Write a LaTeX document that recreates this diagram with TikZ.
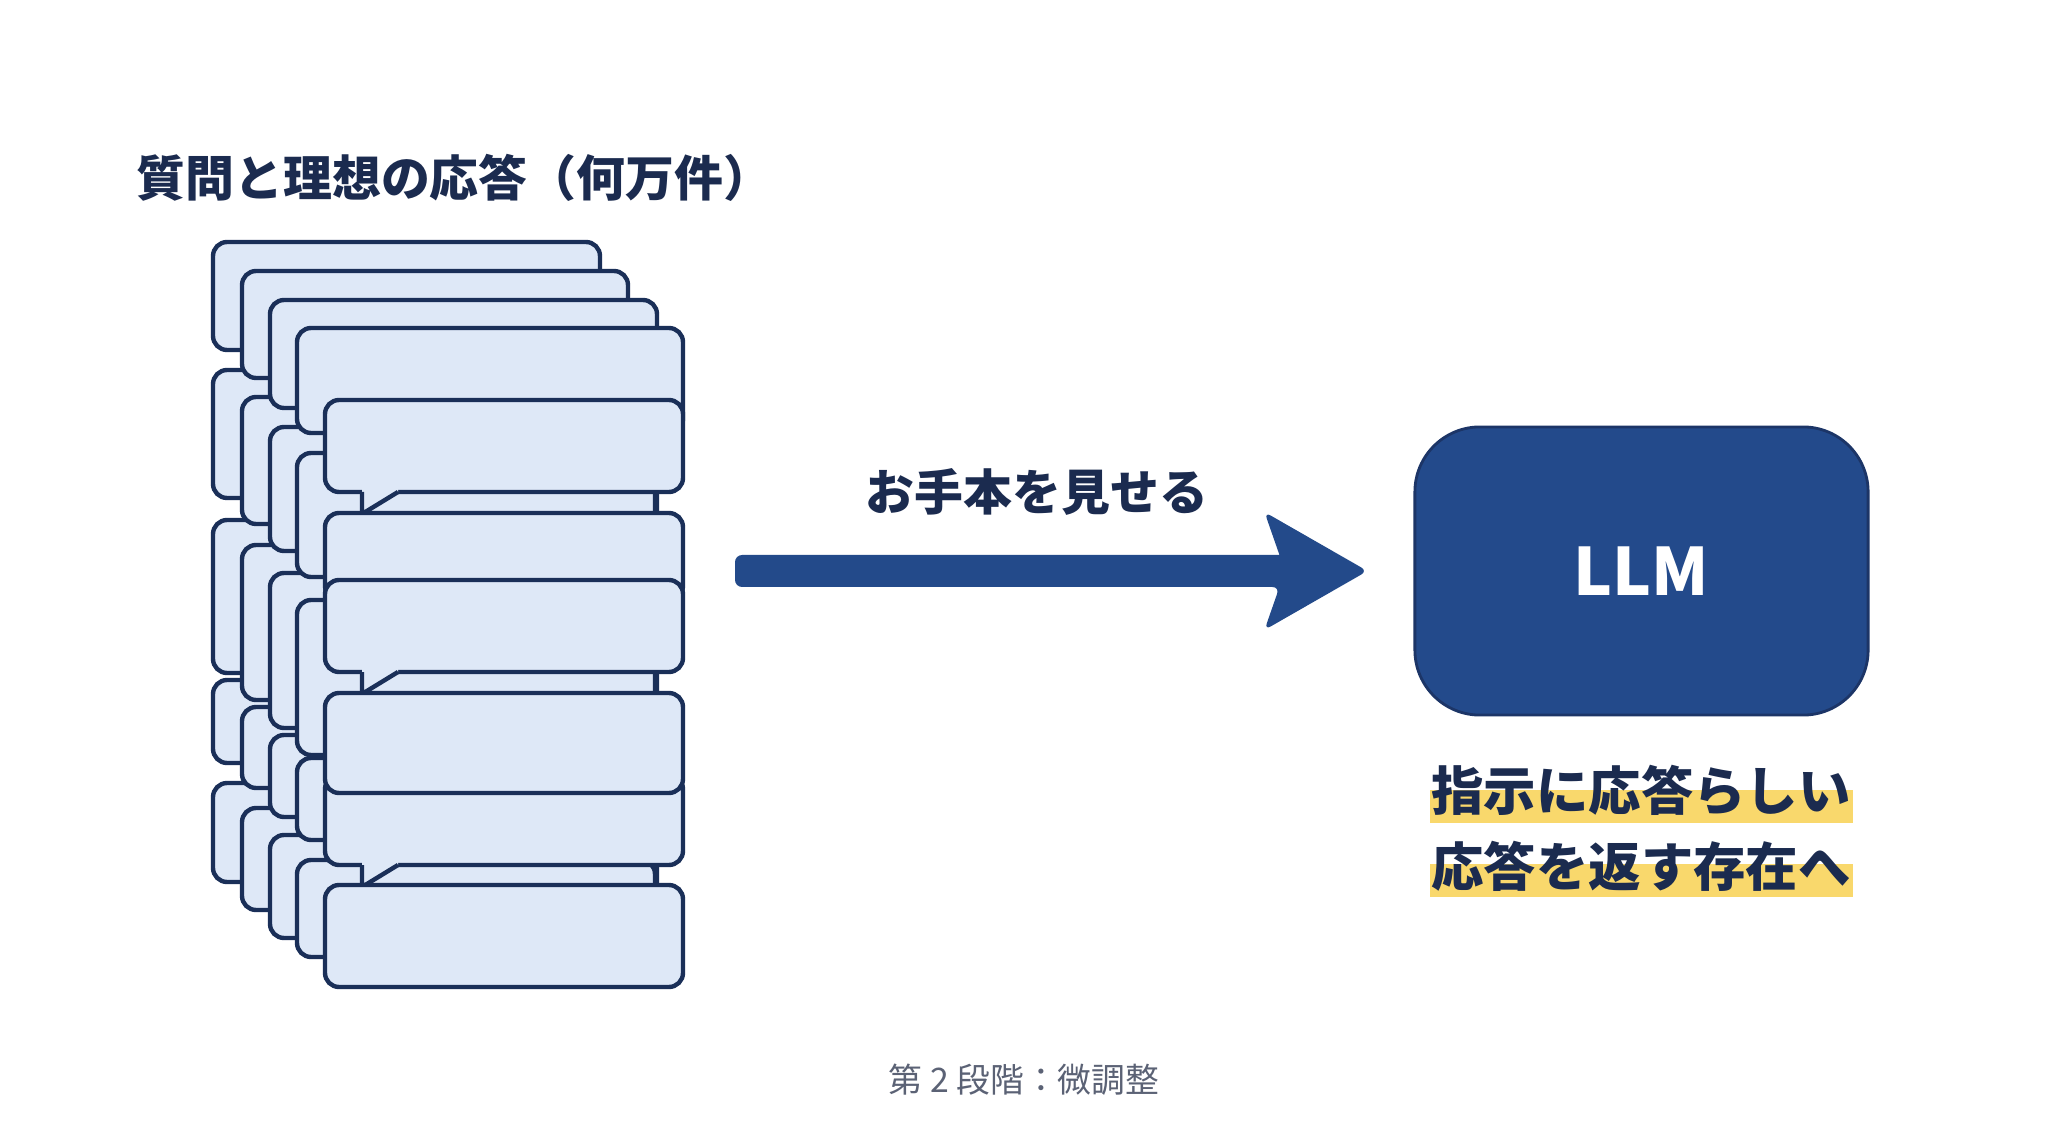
\documentclass[tikz,border=0pt]{standalone}
\usepackage{fontspec}
\setmainfont{Noto Sans CJK JP}
\usetikzlibrary{calc}
\definecolor{navy}{HTML}{1B2B4F}
\definecolor{bubline}{HTML}{1A2F58}
\definecolor{bubfill}{HTML}{DEE8F7}
\definecolor{arrowblue}{HTML}{234A8A}
\definecolor{llmfill}{HTML}{234A8B}
\definecolor{llmline}{HTML}{1C3567}
\definecolor{hl}{HTML}{F9D86C}
\definecolor{capgray}{HTML}{5B6275}
\newcommand\pbub[4]{\draw[bub] (#1,#2) rectangle (#3,#4);}
\newcommand\tbub[4]{%
  \draw[bub] (#1,#2) rectangle (#3,#4);
  \fill[bubfill] (#1+37,#4-3) -- (#1+37,#4+22) -- (#1+73,#4) -- (#1+73,#4-3) -- cycle;
  \draw[bubedge] (#1+37,#4) -- (#1+37,#4+22) -- (#1+73,#4);}
\begin{document}
\begin{tikzpicture}[x=0.01cm,y=-0.01cm,
  bub/.style={fill=bubfill,draw=bubline,line width=1.25pt,rounded corners=4pt},
  bubedge/.style={draw=bubline,line width=1.25pt,line join=miter},
  boldtext/.style={text=navy,inner sep=0pt},
  llmbox/.style={fill=llmfill,draw=llmline,line width=0.8pt,rounded corners=18.5pt,
     minimum width=4.53cm,minimum height=2.88cm,text=white,
     font=\bfseries\fontsize{18.6}{22}\selectfont},
  bigarrow/.style={fill=arrowblue,rounded corners=2pt}]
\fill[white] (0,0) rectangle (2048,1143);
\useasboundingbox (0,0) rectangle (2048,1143);

% title
\node[boldtext,anchor=west,font=\bfseries\fontsize{13.9}{16}\selectfont] (title) at (136,178) {質問と理想の応答（何万件）};

% stacked bubbles, back columns
\pbub{213}{242}{600}{350}
\pbub{213}{370}{600}{498}
\pbub{213}{520}{600}{673}
\pbub{213}{680}{600}{763}
\pbub{213}{783}{600}{882}

\pbub{242}{271}{628}{378}
\pbub{242}{397}{628}{524}
\pbub{242}{545}{628}{700}
\pbub{242}{707}{628}{788}
\pbub{242}{808}{628}{910}

\pbub{270}{300}{657}{408}
\pbub{270}{427}{657}{551}
\pbub{270}{573}{657}{728}
\pbub{270}{735}{657}{817}
\pbub{270}{835}{657}{938}

\pbub{297}{328}{683}{433}
\pbub{297}{453}{655}{577}
\pbub{297}{600}{655}{755}
\pbub{297}{758}{655}{840}
\pbub{297}{860}{655}{957}

% front column
\tbub{325}{400}{683}{492}
\pbub{325}{513}{683}{600}
\tbub{325}{580}{683}{672}
\tbub{325}{775}{683}{865}
\pbub{325}{693}{683}{793}
\pbub{325}{885}{683}{987}

\coordinate (stack) at (735,571.5);

% LLM box
\node[llmbox] (llm) at (1641.5,571) {LLM};

% arrow
\coordinate (arrE) at ($(llm.west)+(-46,0)$);
\coordinate (arrS) at (stack |- arrE);
\fill[bigarrow] ($(arrS)+(0,-16)$) [sharp corners] -- ($(arrE)+(-88,-16)$) [rounded corners=2pt] -- ($(arrE)+(-103,-59)$)
  -- (arrE) -- ($(arrE)+(-103,59)$) -- ($(arrE)+(-88,16)$) -- ($(arrS)+(0,16)$) -- cycle;
\node[boldtext,font=\bfseries\fontsize{13.9}{16}\selectfont] (lbl) at (1037,492) {お手本を見せる};

% highlighted description
\fill[hl] (1430,790) rectangle (1853,823);
\fill[hl] (1430,864) rectangle (1853,897);
\node[boldtext,font=\bfseries\fontsize{14.9}{17}\selectfont] (d1) at (1641,790) {指示に応答らしい};
\node[boldtext,font=\bfseries\fontsize{14.9}{17}\selectfont] (d2) at (1641,866) {応答を返す存在へ};

% caption
\node[text=capgray,inner sep=0pt,font=\fontsize{9.6}{11}\selectfont] (cap) at (1024,1080) {第 2 段階：微調整};
\end{tikzpicture}
\end{document}
